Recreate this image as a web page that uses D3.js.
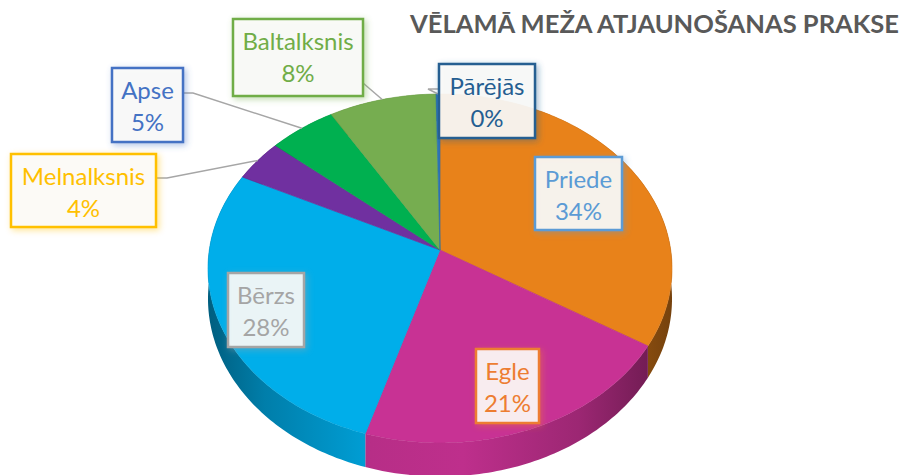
<!DOCTYPE html>
<html>
<head>
<meta charset="utf-8">
<script src="https://cdn.jsdelivr.net/npm/d3@7"></script>
<style>
  body { margin: 0; background: #fff; }
  svg { display: block; }
</style>
</head>
<body>
<div id="chart"></div>
<script>
// data
var species = ['Priede', 'Egle', 'Bērzs', 'Melnalksnis', 'Apse', 'Baltalksnis', 'Pārējās']
var shares = [33.8, 20.9, 27.6, 3.9, 5.2, 8.3, 0.3]
var title = 'VĒLAMĀ MEŽA ATJAUNOŠANAS PRAKSE'

// styles
var sliceColors = ['#E8821A', '#C83294', '#00AEEA', '#7030A0', '#00B050', '#76AD50', '#2E75B6']
var labelColors = ['#5B9BD5', '#ED7D31', '#A5A5A5', '#FFC000', '#4472C4', '#70AD47', '#255E91']

// label boxes [x, y, w, h] and leader elbows
var labelBoxes = {
  'Priede':      [535, 157, 87, 73],
  'Egle':        [476, 349, 63, 74],
  'Bērzs':       [228, 273, 76, 74],
  'Melnalksnis': [11, 154, 145, 73],
  'Apse':        [112, 68, 71, 74],
  'Baltalksnis': [233, 19, 130, 77],
  'Pārējās':     [439, 64, 96, 74]
}
var leaders = {
  'Melnalksnis': [[156, 178], [167, 178]],
  'Apse':        [[183, 93], [193, 93]],
  'Baltalksnis': [[363, 83]],
  'Pārējās':     [[439, 89], [428, 89]]
}

var width = 905, height = 475
var cx = 440, cy = 250, rx = 230.7, ry = 172.5, persp = 0.106, depth = 30

var data = species.map((d, i) => ({name: d, value: shares[i], i}))

var svg = d3.select('#chart').append('svg')
  .attr('width', width).attr('height', height)

var defs = svg.append('defs')

// coloured glow under each label box
labelColors.forEach((c, i) => {
  defs.append('filter').attr('id', 'glow-' + i)
    .attr('x', '-25%').attr('y', '-25%').attr('width', '160%').attr('height', '160%')
    .append('feDropShadow')
    .attr('dx', 2).attr('dy', 2).attr('stdDeviation', 3)
    .attr('flood-color', c).attr('flood-opacity', 0.45)
})

// perspective projection of a rim point, angle clockwise from 12 o'clock
function proj(a, dz){
  var u = Math.sin(a), v = -Math.cos(a)
  var s = 1 / (1 - persp * v)
  return [cx + rx * u * s, cy + ry * v * s + (dz || 0) * s]
}

function rim(a0, a1, dz){
  var n = Math.max(2, Math.ceil((a1 - a0) / (Math.PI / 180)))
  return d3.range(n + 1).map(k => proj(a0 + (a1 - a0) * k / n, dz))
}

var arcs = d3.pie().sort(null).value(d => d.value)(data)
var line = d3.line()

// side gradients
arcs.forEach(d => {
  var c = sliceColors[d.data.i]
  var g = defs.append('linearGradient').attr('id', 'side-' + d.data.i)
    .attr('gradientUnits', 'userSpaceOnUse')
    .attr('x1', cx - rx).attr('x2', cx + rx).attr('y1', 0).attr('y2', 0)
  ;[[0, 1.7], [0.12, 0.9], [0.35, 0.25], [0.55, 0.15], [0.8, 0.7], [1, 1.9]].forEach(s => {
    g.append('stop').attr('offset', s[0]).attr('stop-color', d3.color(c).darker(s[1]))
  })
})

// sides (front half only shows, the top face covers the rest)
svg.append('g').selectAll('path').data(arcs).join('path')
  .attr('d', d => {
    var top = rim(d.startAngle, d.endAngle, 0)
    var bot = rim(d.startAngle, d.endAngle, depth).reverse()
    return line(top.concat(bot)) + 'Z'
  })
  .attr('fill', d => 'url(#side-' + d.data.i + ')')

// top faces
svg.append('g').selectAll('path').data(arcs).join('path')
  .attr('d', d => line([[cx, cy]].concat(rim(d.startAngle, d.endAngle, 0))) + 'Z')
  .attr('fill', d => sliceColors[d.data.i])
  .attr('stroke', d => d3.color(sliceColors[d.data.i]).darker(0.2))
  .attr('stroke-width', 0.6)

// leader lines
svg.append('g').selectAll('path')
  .data(arcs.filter(d => leaders[d.data.name]))
  .join('path')
  .attr('d', d => {
    var mid = (d.startAngle + d.endAngle) / 2
    return line(leaders[d.data.name].concat([proj(mid, 0)]))
  })
  .attr('fill', 'none').attr('stroke', '#A6A6A6').attr('stroke-width', 1.5)

// label boxes
var fmt = d => Math.round(d) + '%'
var labelSel = svg.append('g').selectAll('g').data(arcs).join('g')
  .attr('transform', d => {
    var b = labelBoxes[d.data.name]
    return 'translate(' + b[0] + ',' + b[1] + ')'
  })

labelSel.append('rect')
  .attr('width', d => labelBoxes[d.data.name][2])
  .attr('height', d => labelBoxes[d.data.name][3])
  .attr('fill', '#FCFCFA').attr('fill-opacity', 0.9)
  .attr('stroke', d => labelColors[d.data.i]).attr('stroke-width', 2.5)
  .attr('filter', d => 'url(#glow-' + d.data.i + ')')

labelSel.append('text')
  .attr('x', d => labelBoxes[d.data.name][2] / 2)
  .attr('text-anchor', 'middle')
  .attr('font-family', 'Lato, "Open Sans", sans-serif')
  .attr('font-size', 24)
  .attr('fill', d => labelColors[d.data.i])
  .selectAll('tspan').data(d => [d.data.name, fmt(d.data.value)]).join('tspan')
  .attr('x', function(){ return this.parentNode.getAttribute('x') })
  .attr('y', (t, k) => 31 + k * 32)
  .text(t => t)

// title
svg.append('text')
  .attr('x', 899).attr('y', 33)
  .attr('text-anchor', 'end')
  .attr('font-family', 'Lato, "Open Sans", sans-serif')
  .attr('font-weight', 700)
  .attr('font-size', 25)
  .attr('fill', '#595959')
  .attr('textLength', 489).attr('lengthAdjust', 'spacingAndGlyphs')
  .text(title)
</script>
</body>
</html>
